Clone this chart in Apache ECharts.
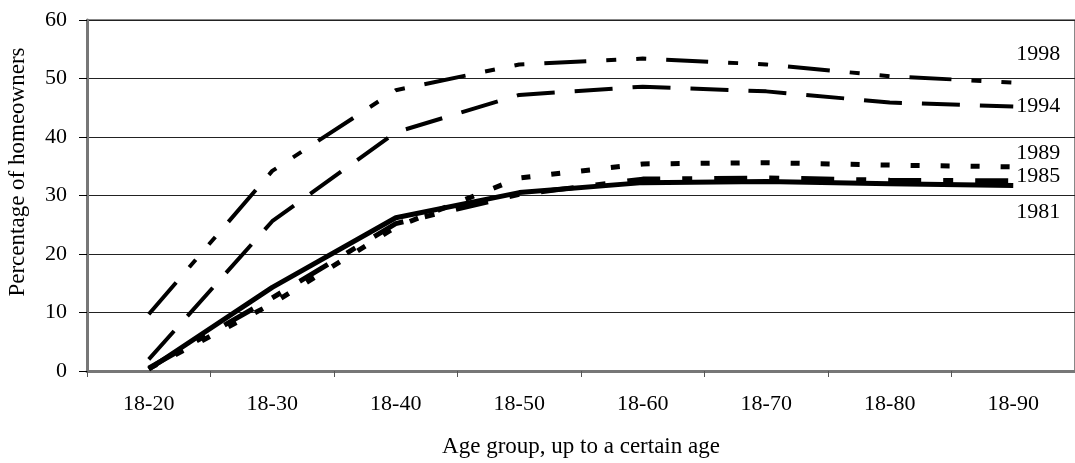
<!DOCTYPE html>
<html>
<head>
<meta charset="utf-8">
<script src="https://cdn.jsdelivr.net/npm/echarts@6/dist/echarts.min.js"></script>
<style>
  html, body { margin: 0; padding: 0; background: #fff; }
  #chart { width: 1075px; height: 463px; }
</style>
</head>
<body>
<div id="chart"></div>
<script>
// 年龄段 (类目轴)
const ageGroups = ['18-20', '18-30', '18-40', '18-50', '18-60', '18-70', '18-80', '18-90']
const yTicks = [0, 10, 20, 30, 40, 50, 60]

// 各年份的住房拥有率 (%)
const y1998 = [9.7, 34.2, 48.0, 52.4, 53.4, 52.4, 50.4, 49.3]
const y1994 = [2.0, 25.6, 40.8, 47.2, 48.6, 47.8, 45.9, 45.2]
const y1989 = [0.4, 11.5, 24.6, 33.0, 35.4, 35.6, 35.2, 34.9]
const y1985 = [0.5, 12.5, 25.2, 30.2, 32.8, 33.0, 32.6, 32.5]
const y1981 = [0.3, 14.3, 26.2, 30.5, 32.2, 32.4, 32.0, 31.7]

const FONT = '"Liberation Serif", "Times New Roman", serif'

function lineSeries(name, data, type, width, dy) {
  return {
    name,
    type: 'line',
    data,
    symbol: 'none',
    smooth: false,
    lineStyle: { color: '#000', width, type, cap: 'butt' },
    endLabel: {
      show: true,
      formatter: '{a}',
      distance: 3,
      offset: [0, dy],
      color: '#000',
      fontFamily: FONT,
      fontSize: 22
    }
  }
}

const chart = echarts.init(document.getElementById('chart'), null, { renderer: 'canvas' })

chart.setOption({
  animation: false,
  backgroundColor: '#fff',
  grid: {
    left: 87, top: 20, width: 992, height: 351,
    show: true, borderColor: '#888', borderWidth: 2
  },
  xAxis: {
    type: 'category',
    data: ageGroups,
    boundaryGap: true,
    name: 'Age group, up to a certain age',
    nameLocation: 'middle',
    nameGap: 64,
    nameTextStyle: { color: '#000', fontFamily: FONT, fontSize: 23 },
    axisLine: { lineStyle: { color: '#777', width: 3 } },
    axisTick: { show: true, length: 6, lineStyle: { color: '#555', width: 1 } },
    axisLabel: { color: '#000', fontFamily: FONT, fontSize: 22, margin: 22 },
    splitLine: { show: false }
  },
  yAxis: {
    type: 'value',
    min: yTicks[0],
    max: yTicks[yTicks.length - 1],
    interval: 10,
    axisLine: { show: true, lineStyle: { color: '#777', width: 3 } },
    axisTick: { show: true, length: 8, lineStyle: { color: '#000', width: 1 } },
    axisLabel: { color: '#000', fontFamily: FONT, fontSize: 22, margin: 20 },
    splitLine: { show: true, lineStyle: { color: '#222', width: 1 } }
  },
  graphic: [{
    type: 'text',
    x: 18, y: 172,
    rotation: Math.PI / 2,
    style: {
      text: 'Percentage of homeowners',
      fill: '#000',
      font: '23px ' + FONT,
      textAlign: 'center',
      textVerticalAlign: 'middle'
    }
  }],
  series: [
    lineSeries('1998', y1998, [42, 20, 10, 20, 10, 20], 4, -28),
    lineSeries('1994', y1994, [38, 20], 4, 0),
    lineSeries('1989', y1989, [9, 21], 5, -14),
    lineSeries('1985', y1985, [33, 22, 10, 22], 5, -5),
    lineSeries('1981', y1981, 'solid', 5, 27)
  ]
})
</script>
</body>
</html>
